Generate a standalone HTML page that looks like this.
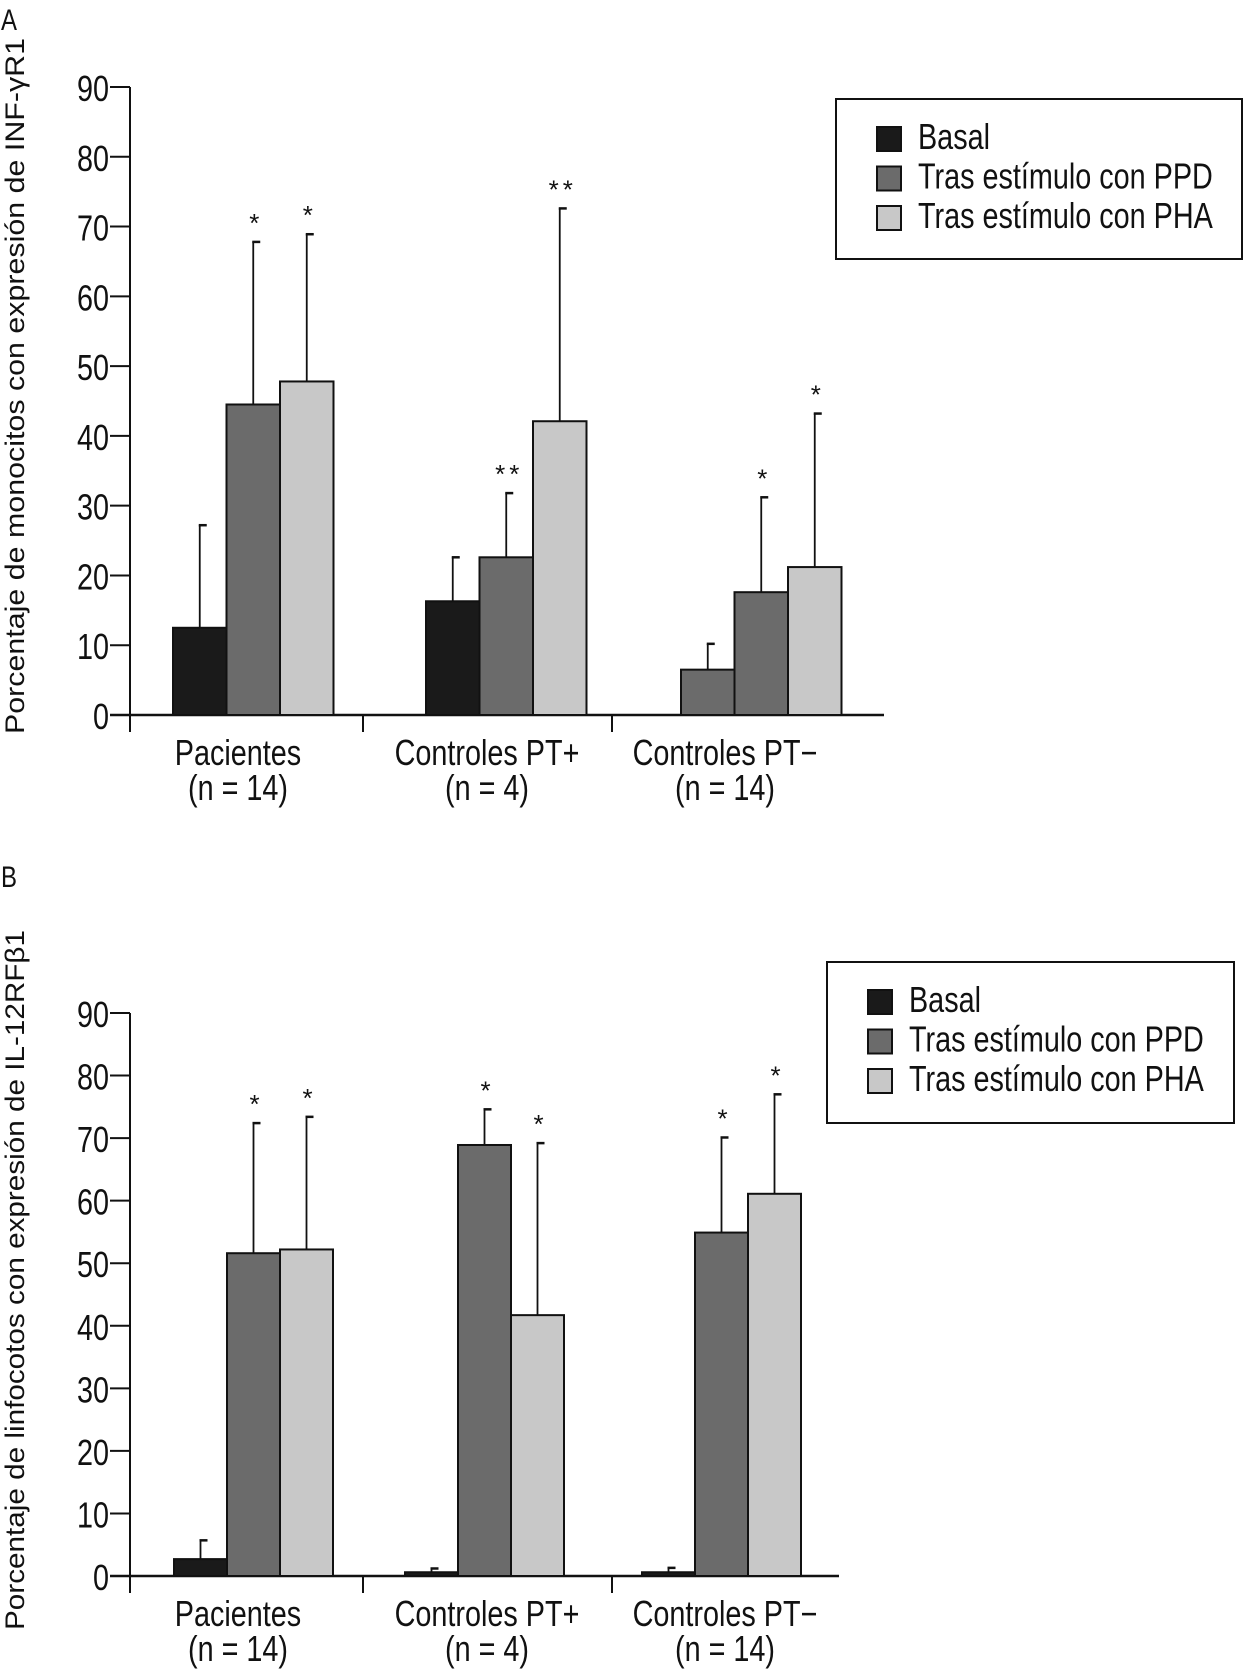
<!DOCTYPE html>
<html><head><meta charset="utf-8">
<style>
html,body{margin:0;padding:0;background:#fff;}
svg{display:block;}
text{font-family:"Liberation Sans",sans-serif;fill:#111;}
</style></head>
<body>
<svg id="fig" width="1244" height="1669" viewBox="0 0 1244 1669" xmlns="http://www.w3.org/2000/svg"></svg>
<script>
const categories = ["Pacientes", "Controles PT+", "Controles PT\u2212"];
const subLabels = ["(n = 14)", "(n = 4)", "(n = 14)"];
const seriesNames = ["Basal", "Tras estímulo con PPD", "Tras estímulo con PHA"];
const yTicks = [0,10,20,30,40,50,60,70,80,90];
// Chart A
const aBasal = [12.5, 16.3, 6.5];
const aPPD = [44.5, 22.6, 17.6];
const aPHA = [47.8, 42.1, 21.2];
const aBasalErr = [27.2, 22.6, 10.2];
const aPPDErr = [67.8, 31.8, 31.2];
const aPHAErr = [68.9, 72.6, 43.2];
const aPPDStars = ["*", "**", "*"];
const aPHAStars = ["*", "**", "*"];
// Chart B
const bBasal = [2.7, 0.6, 0.6];
const bPPD = [51.6, 68.9, 54.9];
const bPHA = [52.2, 41.7, 61.1];
const bBasalErr = [5.7, 1.2, 1.3];
const bPPDErr = [72.4, 74.6, 70.1];
const bPHAErr = [73.4, 69.2, 77.0];
const bPPDStars = ["*", "*", "*"];
const bPHAStars = ["*", "*", "*"];

const NS = "http://www.w3.org/2000/svg";
const svg = document.getElementById('fig');
const SX = 0.8;
function el(tag, attrs, parent, txt){
  const e = document.createElementNS(NS, tag);
  for (const k in attrs) e.setAttribute(k, attrs[k]);
  if (txt !== undefined) e.textContent = txt;
  (parent || svg).appendChild(e);
  return e;
}
// condensed text: horizontally scaled Liberation Sans
function ctext(x, y, size, anchor, parent, txt){
  return el('text', {x: x / SX, y: y, 'font-size': size, 'text-anchor': anchor, transform: `scale(${SX},1)`}, parent, txt);
}
const colors = ["#1a1a1a", "#6b6b6b", "#c8c8c8"];

function drawChart(cfg){
  const g = el('g', {});
  
  
  const y = v => cfg.y0 - (v / 90) * (cfg.y0 - cfg.y90);
  const pl = ctext(1, cfg.letterY, 30, 'start', g, cfg.letter);
  
  
  const yt = el('text', {x: 0, y: 0, 'font-size': 27, 'text-anchor': 'middle',
    transform: `translate(${cfg.ytX},${cfg.ytY}) rotate(-90)`, textLength: cfg.ytLen, lengthAdjust: 'spacingAndGlyphs'}, g, cfg.ytitle);
  
  
  const ya = el('line', {x1: cfg.ax, y1: y(90), x2: cfg.ax, y2: cfg.y0 + 17, stroke: '#111', 'stroke-width': 2}, g);
  
  
  yTicks.forEach(t => {
    const tk = el('line', {x1: cfg.ax - 20, y1: y(t), x2: cfg.ax, y2: y(t), stroke: '#111', 'stroke-width': 2}, g);
    
    
    const tl = ctext(cfg.ax - 21, y(t) + 14, 36, 'end', g, String(t));
    
    
  });
  const xa = el('line', {x1: cfg.ax - 20, y1: cfg.y0, x2: cfg.axEnd, y2: cfg.y0, stroke: '#111', 'stroke-width': 2.5}, g);
  
  
  cfg.seps.forEach(sx => {
    const s = el('line', {x1: sx, y1: cfg.y0, x2: sx, y2: cfg.y0 + 17, stroke: '#111', 'stroke-width': 2}, g);
    
    
  });
  const series = [cfg.basal, cfg.ppd, cfg.pha];
  const errs = [cfg.basalErr, cfg.ppdErr, cfg.phaErr];
  const stars = [null, cfg.ppdStars, cfg.phaStars];
  const names = ['basal', 'ppd', 'pha'];
  categories.forEach((c, i) => {
    for (let s = 0; s < 3; s++){
      const v = series[s][i];
      const x0 = cfg.starts[i] + s * cfg.bw;
      const w = cfg.bw;
      const col = (s === 0 && cfg.basalColor[i]) ? cfg.basalColor[i] : colors[s];
      const cx = x0 + w / 2;
      const eb = el('line', {x1: cx, y1: y(v), x2: cx, y2: y(errs[s][i]), stroke: '#111', 'stroke-width': 1.8}, g);
      
      
      const cap = el('line', {x1: cx - 1, y1: y(errs[s][i]), x2: cx + 7, y2: y(errs[s][i]), stroke: '#111', 'stroke-width': 2.5}, g);
      
      
      const r = el('rect', {x: x0, y: y(v), width: w, height: cfg.y0 - y(v), fill: col, stroke: '#111', 'stroke-width': 2}, g);
      
      
      if (stars[s] && stars[s][i]){
        const st = el('text', {x: cx + 3, y: y(errs[s][i]) - 10, 'font-size': 26, 'text-anchor': 'middle', 'letter-spacing': 4}, g, stars[s][i]);
        
        
      }
    }
    const cl = ctext(cfg.labelX[i], cfg.y0 + 50, 36, 'middle', g, c);
    
    
    const sl = ctext(cfg.labelX[i], cfg.y0 + 85, 36, 'middle', g, subLabels[i]);
    
    
  });
  const lg = el('g', {}, g);
  
  
  el('rect', {x: cfg.leg[0], y: cfg.leg[1], width: cfg.leg[2], height: cfg.leg[3], fill: '#fff', stroke: '#111', 'stroke-width': 2}, lg);
  seriesNames.forEach((n, k) => {
    const base = cfg.leg[1] + 50 + k * 39.5;
    const sw = el('rect', {x: cfg.leg[0] + 41, y: base - 22, width: 24, height: 24, fill: colors[k], stroke: '#111', 'stroke-width': 2}, lg);
    
    
    const t = ctext(cfg.leg[0] + 82, base, 36, 'start', lg, n);
    
    
  });
}

drawChart({name: 'chart-a', letter: 'A', letterY: 30, y0: 715, y90: 87, ax: 130, axEnd: 884,
  seps: [363, 612], starts: [173, 426, 681], bw: 53.5, labelX: [238, 487, 725],
  basal: aBasal, ppd: aPPD, pha: aPHA, basalErr: aBasalErr, ppdErr: aPPDErr, phaErr: aPHAErr,
  ppdStars: aPPDStars, phaStars: aPHAStars, basalColor: [null, null, '#6b6b6b'],
  ytitle: 'Porcentaje de monocitos con expresión de INF-\u03B3R1', ytX: 24, ytY: 386, ytLen: 696,
  leg: [836, 99, 406, 160]});

drawChart({name: 'chart-b', letter: 'B', letterY: 887, y0: 1576, y90: 1013, ax: 130, axEnd: 839,
  seps: [363, 612], starts: [174, 405, 642], bw: 53, labelX: [238, 487, 725],
  basal: bBasal, ppd: bPPD, pha: bPHA, basalErr: bBasalErr, ppdErr: bPPDErr, phaErr: bPHAErr,
  ppdStars: bPPDStars, phaStars: bPHAStars, basalColor: [null, null, null],
  ytitle: 'Porcentaje de linfocotos con expresión de IL-12RF\u03B21', ytX: 24, ytY: 1280, ytLen: 700,
  leg: [827, 962, 407, 161]});
</script>
</body></html>
